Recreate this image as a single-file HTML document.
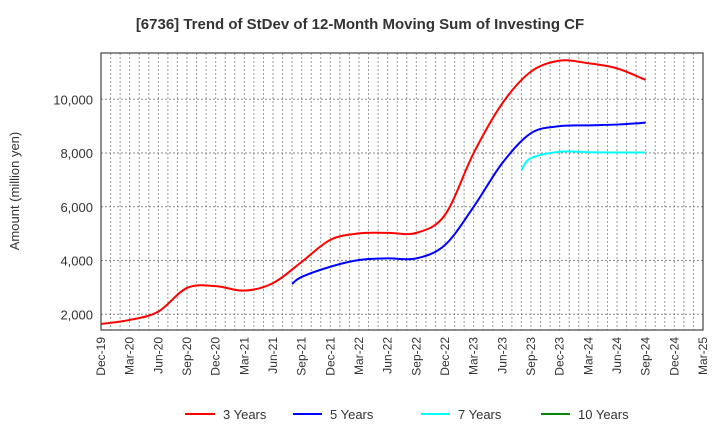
<!DOCTYPE html>
<html><head><meta charset="utf-8"><style>
body{margin:0;background:#fff;font-family:"Liberation Sans",sans-serif}
svg text{font-family:"Liberation Sans",sans-serif}
</style></head><body>
<svg id="c" width="720" height="440">
<text x="360" y="29" text-anchor="middle" font-size="15" font-weight="bold" fill="#333">[6736]  Trend of StDev of 12-Month Moving Sum of Investing CF</text>
<text transform="translate(19,191) rotate(-90)" text-anchor="middle" font-size="13" fill="#333">Amount (million yen)</text>
<g id="grid"></g><g id="series"></g><g id="axes"></g>
<g>
<line x1="185" y1="414" x2="215" y2="414" stroke="#f00" stroke-width="2"/><text x="223" y="419" font-size="13" fill="#333">3 Years</text>
<line x1="293" y1="414" x2="322" y2="414" stroke="#00f" stroke-width="2"/><text x="330" y="419" font-size="13" fill="#333">5 Years</text>
<line x1="421" y1="414" x2="450" y2="414" stroke="#0ff" stroke-width="2"/><text x="458" y="419" font-size="13" fill="#333">7 Years</text>
<line x1="541" y1="414" x2="570" y2="414" stroke="#080" stroke-width="2"/><text x="578" y="419" font-size="13" fill="#333">10 Years</text>
</g>
</svg>
<script>
const xLabels=["Dec-19","Mar-20","Jun-20","Sep-20","Dec-20","Mar-21","Jun-21","Sep-21","Dec-21","Mar-22","Jun-22","Sep-22","Dec-22","Mar-23","Jun-23","Sep-23","Dec-23","Mar-24","Jun-24","Sep-24","Dec-24","Mar-25"];
const yTicks=[2000,4000,6000,8000,10000];
const months3=[0,3,6,9,12,15,18,21,24,27,30,33,36,39,42,45,48,51,54,57];
const vals3=[1640,1790,2100,2980,3050,2880,3160,3950,4770,5010,5030,5030,5700,8000,9850,11030,11440,11340,11150,10720];
const months5=[20,21,24,27,30,33,36,39,42,45,48,51,54,57];
const vals5=[3130,3390,3770,4020,4080,4080,4580,6000,7630,8740,9000,9030,9060,9130];
const months7=[44,45,48,51,54,57];
const vals7=[7370,7810,8050,8030,8020,8020];
const months10=[];const vals10=[];
const L=101,R=703,T=53,B=330;
const X=m=>L+m*(R-L)/63;
const Y=v=>314.3-(v-2000)*0.026875;
const NS="http://www.w3.org/2000/svg";
function mk(t,a,p){const e=document.createElementNS(NS,t);for(const k in a)e.setAttribute(k,a[k]);p.appendChild(e);return e;}
const g=document.getElementById('grid'),ax=document.getElementById('axes'),s=document.getElementById('series');
for(let m=1;m<63;m++){const l=mk('line',{x1:X(m),x2:X(m),y1:T,y2:B,stroke:'#999','stroke-dasharray':'2,2','stroke-width':1},g);

}
yTicks.forEach(v=>{const l=mk('line',{x1:L,x2:R,y1:Y(v),y2:Y(v),stroke:'#888','stroke-dasharray':'2,2'},g);


const t=mk('text',{x:L-8,y:Y(v)+5,'text-anchor':'end','font-size':13,fill:'#333'},ax);t.textContent=v.toLocaleString('en-US');

});
const fr=mk('rect',{x:L,y:T,width:R-L,height:B-T,fill:'none',stroke:'#444','stroke-width':1.2},ax);


xLabels.forEach((lb,i)=>{const x=X(i*3);const t=mk('text',{transform:`translate(${x+4},${B+7}) rotate(-90)`,'text-anchor':'end','font-size':12,fill:'#333'},ax);t.textContent=lb;

});
function path(ms,vs){const p=ms.map((m,i)=>[X(m),Y(vs[i])]);if(p.length<2)return '';let d=`M${p[0][0]},${p[0][1]}`;
for(let i=0;i<p.length-1;i++){const p0=p[i-1]||p[i],p1=p[i],p2=p[i+1],p3=p[i+2]||p2;
d+=` C${p1[0]+(p2[0]-p0[0])/6},${p1[1]+(p2[1]-p0[1])/6} ${p2[0]-(p3[0]-p1[0])/6},${p2[1]-(p3[1]-p1[1])/6} ${p2[0]},${p2[1]}`;}return d;}
[[months3,vals3,'#f00','line-3-years'],[months5,vals5,'#00f','line-5-years'],[months7,vals7,'#0ff','line-7-years'],[months10,vals10,'#080','line-10-years']].forEach(([m,v,c,n])=>{
const e=mk('path',{d:path(m,v),fill:'none',stroke:c,'stroke-width':2},s);

});
</script>
</body></html>
